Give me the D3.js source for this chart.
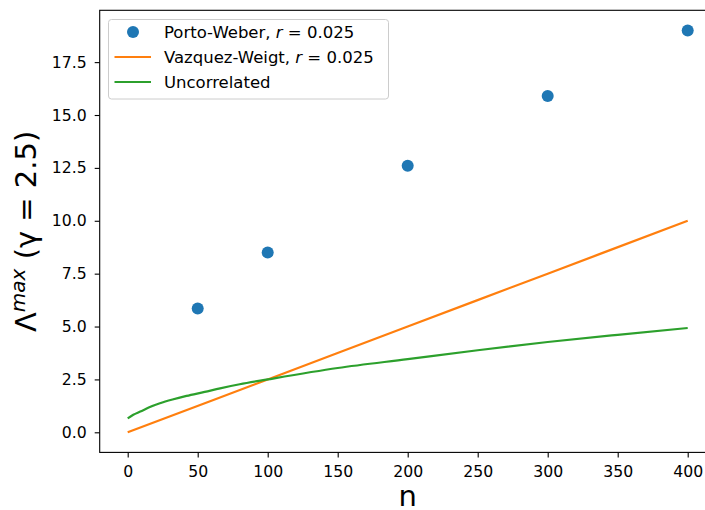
<!DOCTYPE html>
<html>
<head>
<meta charset="utf-8">
<script src="https://cdn.jsdelivr.net/npm/d3@7"></script>
<style>
  body { margin: 0; background: #fff; }
  text { font-family: "DejaVu Sans", sans-serif; fill: #000; }
</style>
</head>
<body>
<div id="chart"></div>
<script>
// Porto-Weber simulation points
const pwN = [50, 100, 200, 300, 400];
const pwVal = [5.85, 8.5, 12.6, 15.9, 19.0];

// Vazquez-Weigt line
const vwN = [0, 100, 200, 300, 400];
const vwVal = [0, 2.5, 5.0, 7.5, 10.0];

// Uncorrelated curve
const unN = [0, 4, 9, 15, 23, 32, 42, 55, 66, 80, 100, 150, 200, 250, 300, 350, 400];
const unVal = [0.66, 0.83, 0.98, 1.17, 1.37, 1.55, 1.72, 1.91, 2.08, 2.27, 2.5, 3.04, 3.46, 3.88, 4.27, 4.61, 4.93];

const xTicks = [0, 50, 100, 150, 200, 250, 300, 350, 400];
const yTicks = [0, 2.5, 5, 7.5, 10, 12.5, 15, 17.5];

const W = 705, H = 510;
const plot = { left: 99.7, right: 715.7, top: 10.3, bottom: 452.4 };

const svg = d3.select("#chart").append("svg")
    .attr("width", W)
    .attr("height", H);

// matplotlib style 5% margins
const xMin = 0, xMax = 400;
const yMin = 0, yMax = d3.max(pwVal);
const xPad = (xMax - xMin) * 0.05, yPad = (yMax - yMin) * 0.05;

const x = d3.scaleLinear()
    .domain([xMin - xPad, xMax + xPad])
    .range([plot.left, plot.right]);
const y = d3.scaleLinear()
    .domain([yMin - yPad, yMax + yPad])
    .range([plot.bottom, plot.top]);

// axes
const xAxis = svg.append("g")
    .attr("transform", `translate(0, ${plot.bottom})`)
    .call(d3.axisBottom(x).tickValues(xTicks).tickSize(5).tickPadding(8).tickFormat(d3.format("d")));
const yAxis = svg.append("g")
    .attr("transform", `translate(${plot.left}, 0)`)
    .call(d3.axisLeft(y).tickValues(yTicks).tickSize(5).tickPadding(8).tickFormat(d3.format(".1f")));

[xAxis, yAxis].forEach(g => {
    g.select(".domain").remove();
    g.selectAll(".tick line").attr("stroke", "#000").attr("stroke-width", 1.1);
    g.selectAll(".tick text")
        .style("font-family", "DejaVu Sans")
        .style("font-size", "15.7px")
        .attr("fill", "#000");
});

// spines
svg.append("rect")
    .attr("x", plot.left)
    .attr("y", plot.top)
    .attr("width", plot.right - plot.left)
    .attr("height", plot.bottom - plot.top)
    .attr("fill", "none")
    .attr("stroke", "#000")
    .attr("stroke-width", 1.1);

const line = d3.line()
    .x(d => x(d[0]))
    .y(d => y(d[1]))
    .curve(d3.curveMonotoneX);

svg.append("path")
    .datum(vwN.map((n, i) => [n, vwVal[i]]))
    .attr("d", line)
    .attr("fill", "none")
    .attr("stroke", "#ff7f0e")
    .attr("stroke-width", 2.2);

svg.append("path")
    .datum(unN.map((n, i) => [n, unVal[i]]))
    .attr("d", line)
    .attr("fill", "none")
    .attr("stroke", "#2ca02c")
    .attr("stroke-width", 2.2);

svg.selectAll(".pw")
    .data(pwN.map((n, i) => [n, pwVal[i]]))
    .join("circle")
    .attr("class", "pw")
    .attr("cx", d => x(d[0]))
    .attr("cy", d => y(d[1]))
    .attr("r", 6)
    .attr("fill", "#1f77b4");

// legend
const legend = svg.append("g");
legend.append("rect")
    .attr("x", 108.5)
    .attr("y", 19.5)
    .attr("width", 280)
    .attr("height", 79.5)
    .attr("rx", 3)
    .attr("fill", "#fff")
    .attr("fill-opacity", 0.8)
    .attr("stroke", "#ccc")
    .attr("stroke-width", 1);

const rowY = [32, 57, 82];
legend.append("circle")
    .attr("cx", 133)
    .attr("cy", rowY[0])
    .attr("r", 6)
    .attr("fill", "#1f77b4");
[["#ff7f0e", rowY[1]], ["#2ca02c", rowY[2]]].forEach(([c, yy]) => {
    legend.append("line")
        .attr("x1", 114.5).attr("x2", 151)
        .attr("y1", yy).attr("y2", yy)
        .attr("stroke", c)
        .attr("stroke-width", 2.2);
});

function legendText(yy, label, withR) {
    const t = legend.append("text")
        .attr("x", 164)
        .attr("y", yy + 6)
        .style("font-size", "16.5px");
    t.append("tspan").text(label);
    if (withR) {
        t.append("tspan").text("r").style("font-style", "italic");
        t.append("tspan").text(" = 0.025");
    }
}
legendText(rowY[0], "Porto-Weber, ", true);
legendText(rowY[1], "Vazquez-Weigt, ", true);
legendText(rowY[2], "Uncorrelated", false);

// axis labels
svg.append("text")
    .attr("x", (plot.left + plot.right) / 2)
    .attr("y", 506)
    .attr("text-anchor", "middle")
    .style("font-size", "29px")
    .text("n");

const yl = svg.append("text")
    .attr("transform", `translate(36, ${(plot.top + plot.bottom) / 2}) rotate(-90)`)
    .attr("text-anchor", "middle")
    .style("font-size", "29px");
yl.append("tspan").text("Λ");
yl.append("tspan").text("max").attr("dy", -11).style("font-size", "20px").style("font-style", "italic");
yl.append("tspan").text(" (γ = 2.5)").attr("dy", 11);
</script>
</body>
</html>
